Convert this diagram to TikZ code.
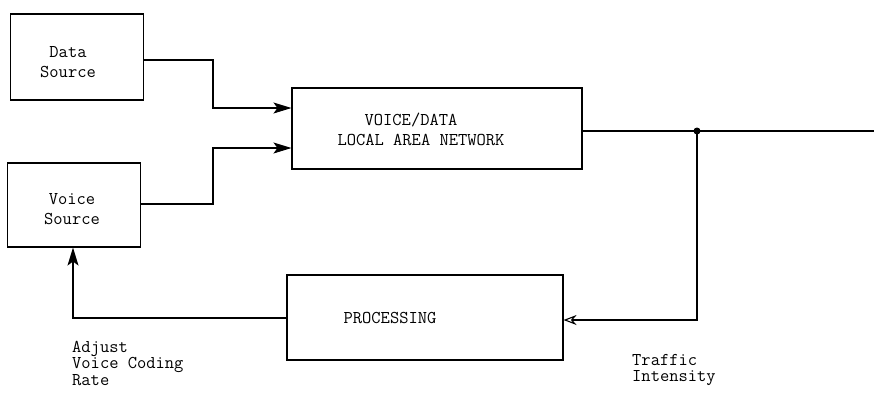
\documentclass[tikz,border=0pt]{standalone}
\usetikzlibrary{arrows.meta}
\begin{document}
\begin{tikzpicture}[x=1pt,y=-1pt,
  blk/.style={draw,line width=1.1pt,inner sep=0pt},
  lbl/.style={font=\ttfamily\fontsize{18}{16.5}\selectfont,align=left,inner sep=0pt},
  ctr/.style={font=\ttfamily\fontsize{18}{20}\selectfont,align=center,inner sep=0pt},
  wire/.style={line width=1.1pt},
  arr/.style={wire,-{Stealth[length=18pt,width=11pt,inset=4pt]}},
  oarr/.style={wire,-{Stealth[open,length=13pt,width=10pt]}}]
\useasboundingbox (0,0) rectangle (874,392);
\node[blk,minimum width=133pt,minimum height=86pt] (ds) at (77,57) {};
\node[ctr] at (68,62) {Data\\Source};
\node[blk,minimum width=133pt,minimum height=84pt] (vs) at (74,205) {};
\node[ctr] at (72,209) {Voice\\Source};
\node[blk,minimum width=290pt,minimum height=81pt] (lan) at (437,128.5) {};
\node[ctr] (t1) at (411,120) {VOICE/DATA};
\node[ctr] (t2) at (421,140) {LOCAL AREA NETWORK};
\node[blk,minimum width=276pt,minimum height=85pt] (pr) at (425,317.5) {};
\node[ctr] at (390,318) {PROCESSING};
\coordinate (dot) at (697,131);
\coordinate (endr) at (874,131);
\draw[arr] (ds.east |- 0,60) -- (213,60) -- (213,108) -- (lan.west |- 0,108);
\draw[arr] (vs.east |- 0,204) -- (213,204) -- (213,148) -- (lan.west |- 0,148);
\draw[wire] (lan.east |- dot) -- (dot) -- (endr);
\fill (dot) circle (3.5pt);
\draw[oarr] (dot) -- (697,320) -- (pr.east |- 0,320);
\draw[arr] (pr.west |- 0,318) -- (73,318) -- (vs.south -| 73,0);
\node[lbl,anchor=north west] (adj) at (72,341) {Adjust\\Voice Coding\\Rate};
\node[lbl,anchor=north west] (ti) at (632,354) {Traffic\\Intensity};
\end{tikzpicture}
\end{document}
